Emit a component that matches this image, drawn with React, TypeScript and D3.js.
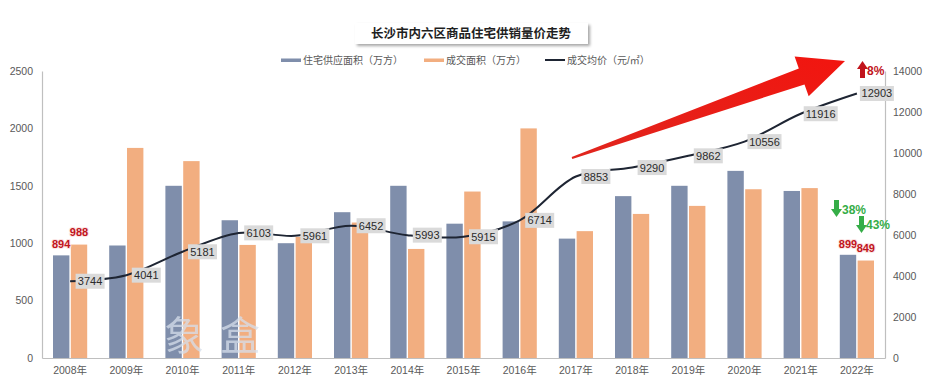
import { useEffect, useRef } from "react";
import * as d3 from "d3";

// 长沙市内六区商品住宅供销量价
const years = ["2008年", "2009年", "2010年", "2011年", "2012年", "2013年", "2014年", "2015年",
  "2016年", "2017年", "2018年", "2019年", "2020年", "2021年", "2022年"];
const supplyArea = [894, 980, 1500, 1200, 1000, 1270, 1500, 1170, 1190, 1040, 1410, 1500, 1630, 1455, 899];
const soldArea = [988, 1830, 1715, 985, 1055, 1180, 950, 1450, 2000, 1105, 1255, 1325, 1470, 1480, 849];
const avgPrice = [3744, 4041, 5181, 6103, 5961, 6452, 5993, 5915, 6714, 8853, 9290, 9862, 10556, 11916, 12903];
const leftTicks = [0, 500, 1000, 1500, 2000, 2500];
const rightTicks = [0, 2000, 4000, 6000, 8000, 10000, 12000, 14000];
const labelledYears = ["2008年", "2022年"];

const FONT = '"Liberation Sans", "Noto Sans CJK SC", sans-serif';
const BLUE = "#7f8eab";
const ORANGE = "#f2ae80";
const LINE = "#1e2533";
const RED = "#c1141c";
const GREEN = "#35ad47";

const W = 929, H = 392;
const plotLeft = 42, plotRight = 885, plotTop = 71, plotBottom = 358;

function smallArrow(x: number, y: number, down: boolean) {
  // block arrow, 11 wide, 17 tall; (x,y) = top-left
  const s = down ? 1 : -1;
  const y0 = down ? y : y + 17;
  return `M${x + 3},${y0} L${x + 8},${y0} L${x + 8},${y0 + s * 9} L${x + 11},${y0 + s * 9}
    L${x + 5.5},${y0 + s * 17} L${x},${y0 + s * 9} L${x + 3},${y0 + s * 9} Z`;
}

function bigArrow(tx: number, ty: number, hx: number, hy: number) {
  const dx = hx - tx, dy = hy - ty;
  const len = Math.hypot(dx, dy);
  const ux = dx / len, uy = dy / len;
  const nx = -uy, ny = ux;
  const headLen = 46, headHalf = 21, shaftHalf = 8.5, tailHalf = 1;
  const bx = hx - ux * headLen, by = hy - uy * headLen;
  const pts = [
    [tx - nx * tailHalf, ty - ny * tailHalf],
    [bx - nx * shaftHalf, by - ny * shaftHalf],
    [bx - nx * headHalf, by - ny * headHalf],
    [hx, hy],
    [bx + nx * headHalf, by + ny * headHalf],
    [bx + nx * shaftHalf, by + ny * shaftHalf],
    [tx + nx * tailHalf, ty + ny * tailHalf],
  ];
  return "M" + pts.map(p => p.join(",")).join("L") + "Z";
}

export default function App() {
  const leftRef = useRef<SVGGElement>(null);
  const rightRef = useRef<SVGGElement>(null);
  const bottomRef = useRef<SVGGElement>(null);

  const x0 = d3.scaleBand<string>().domain(years).range([plotLeft, plotRight]).padding(0);
  const x1 = d3.scaleBand<string>().domain(["supply", "sold"])
    .range([11, x0.bandwidth() - 11]).paddingInner(0.08);
  const yL = d3.scaleLinear().domain([0, 2500]).range([plotBottom, plotTop]);
  const yR = d3.scaleLinear().domain([0, 14000]).range([plotBottom, plotTop]);
  const cx = (y: string) => (x0(y) ?? 0) + x0.bandwidth() / 2;

  const linePath = d3.line<number>()
    .x((_, i) => cx(years[i]))
    .y(d => yR(d))
    .curve(d3.curveCatmullRom.alpha(0.5))(avgPrice) ?? "";

  useEffect(() => {
    const styleAxis = (g: d3.Selection<SVGGElement, unknown, null, undefined>) => {
      g.select(".domain").attr("stroke", "#bfbfbf").attr("stroke-width", 1.2);
      g.selectAll(".tick line").remove();
      g.selectAll(".tick text").attr("fill", "#595959").attr("font-size", 10.5).attr("font-family", FONT);
    };
    const left = d3.select(leftRef.current!);
    left.call(d3.axisLeft(yL).tickValues(leftTicks).tickFormat(d3.format("d")).tickSize(0).tickPadding(9).tickSizeOuter(0));
    styleAxis(left);
    const right = d3.select(rightRef.current!);
    right.call(d3.axisRight(yR).tickValues(rightTicks).tickFormat(d3.format("d")).tickSize(0).tickPadding(8).tickSizeOuter(0));
    styleAxis(right);
    const bottom = d3.select(bottomRef.current!);
    bottom.call(d3.axisBottom(x0).tickSize(0).tickPadding(9).tickSizeOuter(0));
    styleAxis(bottom);
  }, []);

  return (
    <svg width={W} height={H} style={{ position: "absolute", left: 0, top: 0, background: "#fff" }}
      fontFamily={FONT}>
      <defs>
        <filter id="sh" x="-10%" y="-30%" width="130%" height="180%">
          <feDropShadow dx="2" dy="2" stdDeviation="1.5" floodColor="#000" floodOpacity="0.35" />
        </filter>
        <linearGradient id="arrowGrad" x1="0" y1="1" x2="1" y2="0">
          <stop offset="0" stopColor="#e0261e" />
          <stop offset="1" stopColor="#f2150f" />
        </linearGradient>
      </defs>

      {/* title */}
      <rect x={355} y={23} width={233} height={21} fill="#fff" filter="url(#sh)" />
      <text x={471} y={38} textAnchor="middle" fontSize={12.5} fontWeight="bold" fill="#1f1f1f">
        长沙市内六区商品住宅供销量价走势
      </text>

      {/* legend */}
      <rect x={281} y={58.5} width={20} height={3.5} fill={BLUE} />
      <text x={303} y={64} fontSize={10} fill="#595959">住宅供应面积（万方）</text>
      <rect x={424} y={58.5} width={20} height={3.5} fill={ORANGE} />
      <text x={446} y={64} fontSize={10} fill="#595959">成交面积（万方）</text>
      <line x1={545} x2={565} y1={60} y2={60} stroke={LINE} strokeWidth={2} />
      <text x={567} y={64} fontSize={10} fill="#595959">成交均价（元/㎡）</text>

      {/* bars */}
      {years.map((y, i) => (
        <g key={y}>
          <rect x={(x0(y) ?? 0) + (x1("supply") ?? 0)} y={yL(supplyArea[i])}
            width={x1.bandwidth()} height={plotBottom - yL(supplyArea[i])} fill={BLUE} />
          <rect x={(x0(y) ?? 0) + (x1("sold") ?? 0)} y={yL(soldArea[i])}
            width={x1.bandwidth()} height={plotBottom - yL(soldArea[i])} fill={ORANGE} />
        </g>
      ))}

      {/* watermark */}
      <text x={164} y={350} fontSize={40} fill="#d6dfeb" opacity={0.75}>象</text>
      <text x={220} y={350} fontSize={40} fill="#d6dfeb" opacity={0.75}>盒</text>

      {/* axes */}
      <g ref={leftRef} transform={`translate(${plotLeft},0)`} />
      <g ref={rightRef} transform={`translate(${plotRight},0)`} />
      <g ref={bottomRef} transform={`translate(0,${plotBottom})`} />

      {/* bar value labels */}
      {years.map((y, i) => labelledYears.includes(y) ? (
        <g key={"lab" + y} fontSize={11} fontWeight="bold" fill={RED} textAnchor="middle"
          stroke="#fbe3e3" strokeWidth={2} paintOrder="stroke">
          <text x={(x0(y) ?? 0) + (x1("supply") ?? 0) + x1.bandwidth() / 2} y={yL(supplyArea[i]) - 7}>
            {supplyArea[i]}
          </text>
          <text x={(x0(y) ?? 0) + (x1("sold") ?? 0) + x1.bandwidth() / 2} y={yL(soldArea[i]) - 9}>
            {soldArea[i]}
          </text>
        </g>
      ) : null)}

      {/* price line */}
      <path d={linePath} fill="none" stroke={LINE} strokeWidth={2} />
      {avgPrice.map((p, i) => {
        const w = p >= 10000 ? 34 : 29;
        const lx = cx(years[i]) + 20;
        const ly = yR(p);
        return (
          <g key={"p" + i}>
            <rect x={lx - w / 2} y={ly - 7.5} width={w} height={15} fill="#dadada" />
            <text x={lx} y={ly + 4} textAnchor="middle" fontSize={11} fill="#2b2b2b">{p}</text>
          </g>
        );
      })}

      {/* big trend arrow */}
      <path d={bigArrow(572, 158, 845, 61)} fill="url(#arrowGrad)" />

      {/* change annotations */}
      <path d={smallArrow(857, 61, false)} fill={RED} />
      <text x={867} y={75} fontSize={12} fontWeight="bold" fill={RED}>8%</text>
      <path d={smallArrow(831, 200, true)} fill={GREEN} />
      <text x={842} y={214} fontSize={12} fontWeight="bold" fill={GREEN}>38%</text>
      <path d={smallArrow(856, 216, true)} fill={GREEN} />
      <text x={866} y={229} fontSize={12} fontWeight="bold" fill={GREEN}>43%</text>
    </svg>
  );
}
